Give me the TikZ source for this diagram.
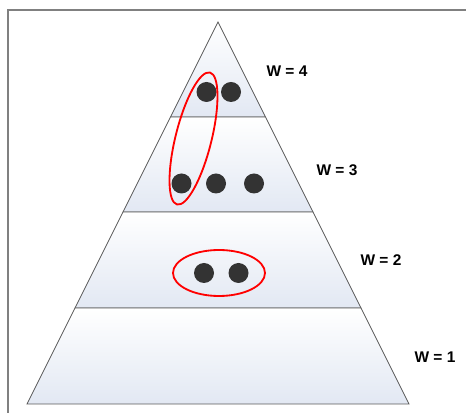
\documentclass[tikz,border=0pt]{standalone}
\usepackage{fontspec}
\setmainfont{Liberation Sans}
\usepackage{tikz}
\definecolor{bandblue}{HTML}{E2E8F3}
\definecolor{dotgray}{HTML}{333333}

\begin{document}
\begin{tikzpicture}[x=0.025cm,y=0.025cm,
  band/.style={draw=black!65,line width=0.5pt,top color=white,bottom color=bandblue},
  dot/.style={circle,fill=dotgray,minimum size=20*0.025cm,inner sep=0pt},
  lbl/.style={font=\fontsize{11}{13}\selectfont\bfseries},
  loop/.style={draw=red,line width=1.3pt}]
\useasboundingbox (0,0) rectangle (466,413);
\draw[gray,line width=1.3pt](8,0) -- (8,403) -- (466,403);
\path[band](218,391) -- (265.5,296) -- (170.5,296) -- cycle;
\path[band](170.5,296) -- (265.5,296) -- (313,201) -- (123,201) -- cycle;
\path[band](123,201) -- (313,201) -- (361,105) -- (75,105) -- cycle;
\path[band](75,105) -- (361,105) -- (409,9) -- (27,9) -- cycle;
\node[dot] (d41) at (206.5,321){};
\node[dot] (d42) at (231,321){};
\node[dot] (d31) at (181.5,229.5){};
\node[dot] (d32) at (216,229.5){};
\node[dot] (d33) at (254,229.5){};
\node[dot] (d21) at (204,140){};
\node[dot] (d22) at (238.5,140){};
\draw[loop,rotate around={76:(193.5,274.5)}](193.5,274.5) ellipse (68 and 18);
\draw[loop](219,140) ellipse (46 and 23);
\node[lbl] (w4) at (287,342){W = 4};
\node[lbl] (w3) at (337,243){W = 3};
\node[lbl] (w2) at (381,153){W = 2};
\node[lbl] (w1) at (435,56){W = 1};
\end{tikzpicture}
\end{document}
